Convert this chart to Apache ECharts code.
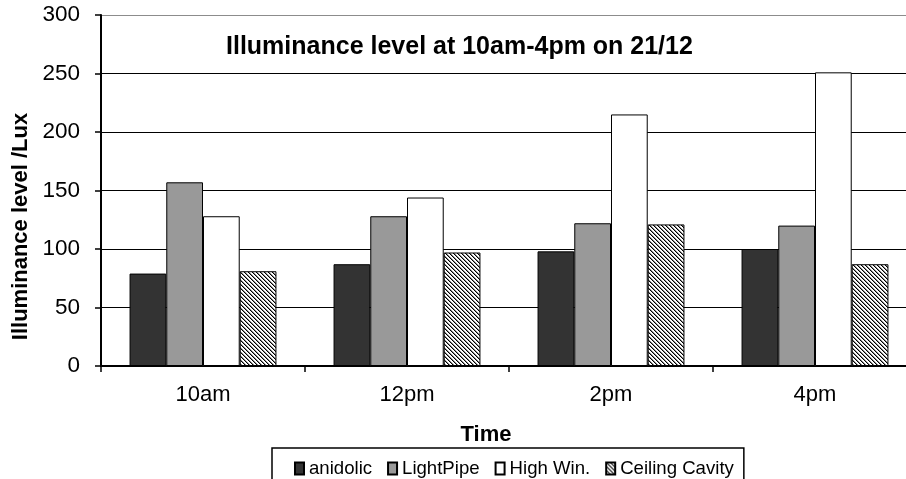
<!DOCTYPE html>
<html>
<head>
<meta charset="utf-8">
<script src="https://cdn.jsdelivr.net/npm/echarts@6/dist/echarts.min.js"></script>
<style>
html,body{margin:0;padding:0;background:#fff;overflow:hidden;}
#wrap{width:906px;height:479px;overflow:hidden;}
#chart{width:917px;height:479px;}
</style>
</head>
<body>
<div id="wrap"><div id="chart"></div></div>
<script>
var categories = ['10am', '12pm', '2pm', '4pm'];
var anidolic = [79, 87, 98, 100];
var lightPipe = [157, 128, 122, 120];
var highWin = [128, 144, 215, 251];
var ceilingCavity = [81, 97, 121, 87];
var yTicks = [0, 50, 100, 150, 200, 250, 300];

var FONT = '"Liberation Sans", Arial, Helvetica, sans-serif';

// diagonal hatch pattern for "Ceiling Cavity"
var P = 4;
var pc = document.createElement('canvas');
pc.width = P; pc.height = P;
var pctx = pc.getContext('2d');
pctx.fillStyle = '#fff';
pctx.fillRect(0, 0, P, P);
for (var y = 0; y < P; y++) {
  for (var x = 0; x < P; x++) {
    var d = ((x - y) % P + P) % P;
    if (d === 0) { pctx.fillStyle = '#000'; pctx.fillRect(x, y, 1, 1); }
    else if (d === 1) { pctx.fillStyle = '#8a8a8a'; pctx.fillRect(x, y, 1, 1); }
  }
}
var hatch = { image: pc, repeat: 'repeat' };

var chart = echarts.init(document.getElementById('chart'), null, { renderer: 'canvas' });

function barSeries(name, data, color) {
  return {
    name: name,
    type: 'bar',
    data: data,
    barGap: '0%',
    barCategoryGap: '28%',
    itemStyle: { color: color, borderColor: '#000', borderWidth: 1 },
    emphasis: { disabled: true },
    animation: false
  };
}

chart.setOption({
  animation: false,
  backgroundColor: '#fff',
  title: {
    text: 'Illuminance level at 10am-4pm on 21/12',
    left: 226,
    top: 35,
    padding: 0,
    textStyle: { fontFamily: FONT, fontSize: 25, fontWeight: 'bold', color: '#000' }
  },
  legend: {
    left: 272,
    top: 448,
    padding: [11, 10, 20, 22],
    itemGap: 15,
    itemWidth: 9,
    itemHeight: 12,
    icon: 'rect',
    borderColor: '#000',
    borderWidth: 1.5,
    textStyle: { fontFamily: FONT, fontSize: 18.6, color: '#000' },
    data: ['anidolic', 'LightPipe', 'High Win.', 'Ceiling Cavity']
  },
  grid: { left: 101, right: 0, top: 15, bottom: 113, containLabel: false },
  xAxis: {
    type: 'category',
    data: categories,
    name: 'Time',
    nameLocation: 'middle',
    nameGap: 58,
    nameTextStyle: { fontFamily: FONT, fontSize: 22, fontWeight: 'bold', color: '#000', padding: [0, 46, 0, 0] },
    axisLine: { lineStyle: { color: '#000', width: 2 } },
    axisTick: { show: true, length: 6, lineStyle: { color: '#000', width: 1.5 } },
    axisLabel: { fontFamily: FONT, fontSize: 22, color: '#000', margin: 18 }
  },
  yAxis: {
    type: 'value',
    min: yTicks[0],
    max: yTicks[yTicks.length - 1],
    interval: 50,
    name: 'Illuminance level /Lux',
    nameLocation: 'middle',
    nameGap: 60,
    nameTextStyle: { fontFamily: FONT, fontSize: 22, fontWeight: 'bold', color: '#000', padding: [0, 72, 0, 0] },
    axisLine: { show: true, lineStyle: { color: '#000', width: 2 } },
    axisTick: { show: true, length: 6, lineStyle: { color: '#000', width: 1.5 } },
    axisLabel: { fontFamily: FONT, fontSize: 22.5, color: '#000', margin: 21 },
    splitLine: { show: true, lineStyle: { color: ['#000', '#000', '#000', '#000', '#000', '#000', '#8c8c8c'], width: 1.2 } }
  },
  series: [
    barSeries('anidolic', anidolic, '#333333'),
    barSeries('LightPipe', lightPipe, '#999999'),
    barSeries('High Win.', highWin, '#ffffff'),
    barSeries('Ceiling Cavity', ceilingCavity, hatch)
  ]
});
</script>
</body>
</html>
